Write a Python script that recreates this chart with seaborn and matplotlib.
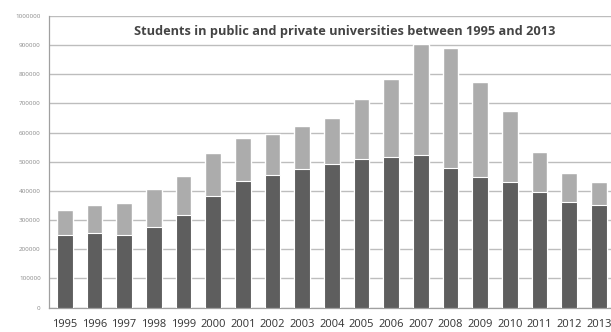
import matplotlib
matplotlib.use("Agg")
import matplotlib.pyplot as plt
import pandas as pd
import seaborn as sns

years = [str(y) for y in range(1995, 2014)]
public = [247000, 255000, 248000, 277000, 318000, 381000, 435000, 455000, 475000,
          493000, 511000, 518000, 524000, 478000, 449000, 432000, 397000, 363000, 350000]
private = [87000, 95000, 109000, 130000, 132000, 149000, 145000, 140000, 146000,
           156000, 205000, 266000, 381000, 412000, 326000, 241000, 138000, 98000, 81000]

title = "Students in public and private universities between 1995 and 2013"

DARK = "#5e5e5e"
LIGHT = "#acacac"

sns.set_theme(style="whitegrid")
plt.rcParams["font.family"] = ["Open Sans", "DejaVu Sans"]

df = pd.DataFrame({"year": years, "public": public, "private": private})
df["total"] = df["public"] + df["private"]

fig = plt.figure(figsize=(6.11, 3.32), dpi=100)
ax = fig.add_axes([49 / 611, 1 - 307.5 / 332, 1 - 49 / 611, (307.5 - 16) / 332])

# stacked: total in light, public drawn over it in dark
sns.barplot(data=df, x="year", y="total", color=LIGHT, width=0.53,
            saturation=1, ax=ax, zorder=2)
sns.barplot(data=df, x="year", y="public", color=DARK, width=0.53,
            saturation=1, ax=ax, zorder=3, edgecolor="white", linewidth=0.8)

ax.set_ylim(0, 1000000)
ax.set_xlim(-0.53, 18.41)
ax.set_yticks(range(0, 1000001, 100000))
ax.set_yticklabels([str(v) for v in range(0, 1000001, 100000)],
                   fontsize=4.5, color="#8a8a8a")
ax.tick_params(axis="x", labelsize=8, colors="#333333", pad=8, length=0)
ax.tick_params(axis="y", pad=6, length=0)
ax.set_xlabel("")
ax.set_ylabel("")

ax.grid(axis="y", color="#bdbdbd", linewidth=1.0)
ax.grid(axis="x", visible=False)
ax.set_axisbelow(True)
for side in ["top", "right"]:
    ax.spines[side].set_visible(False)
for side in ["left", "bottom"]:
    ax.spines[side].set_color("#a0a0a0")
    ax.spines[side].set_linewidth(0.9)

ax.text(0.527, 1 - (32 - 16) / 291.5, title, transform=ax.transAxes,
        ha="center", va="center", fontsize=9.2, fontweight="bold", color="#444444")

fig.savefig("out.png", dpi=100)
